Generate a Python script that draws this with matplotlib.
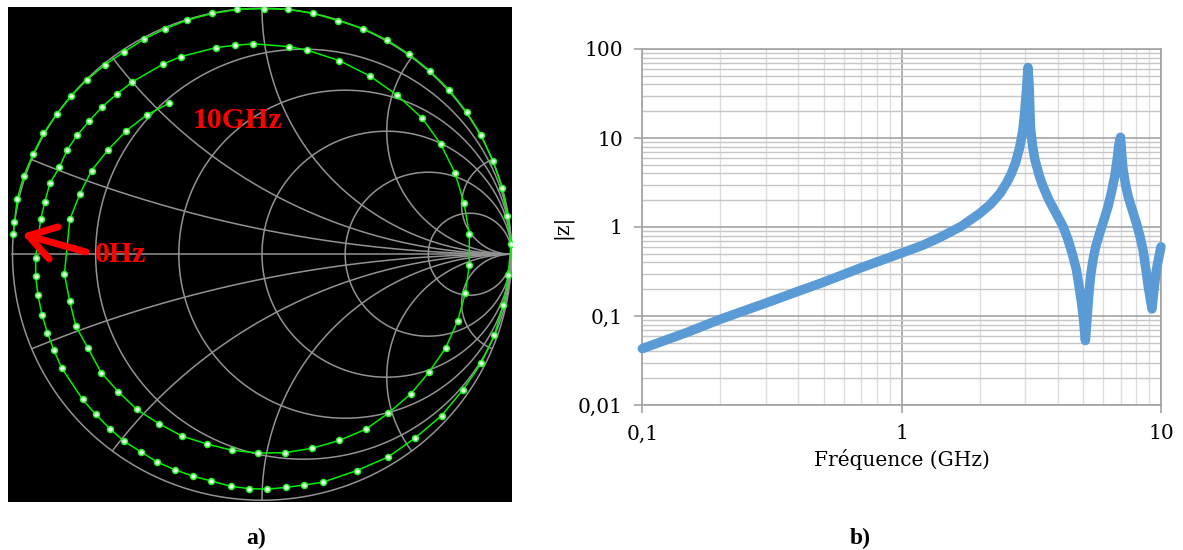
import numpy as np
import matplotlib
matplotlib.use("Agg")
import matplotlib.pyplot as plt
from matplotlib.patches import Circle
from matplotlib.ticker import FixedLocator, FixedFormatter, LogLocator, NullFormatter

# ---------------- data ----------------
# right panel : |z| versus frequency (GHz)
freq_ghz = [0.1, 0.15, 0.2, 0.3, 0.4, 0.5, 0.7, 1.0, 1.2, 1.4, 1.7, 2.0, 2.2, 2.4,
            2.55, 2.65, 2.75, 2.85, 2.93, 2.98, 3.03, 3.07, 3.1, 3.14, 3.2, 3.26,
            3.4, 3.51, 3.7, 3.95, 4.2, 4.38, 4.55, 4.72, 4.85, 4.94, 5.03, 5.11,
            5.18, 5.26, 5.35, 5.47, 5.6, 5.8, 6.0, 6.25, 6.45, 6.63, 6.78, 6.89,
            6.98, 7.06, 7.14, 7.3, 7.47, 7.75, 8.04, 8.3, 8.53, 8.75, 8.92, 9.08,
            9.23, 9.4, 9.6, 9.8, 10.0]
z_mag = [0.043, 0.066, 0.092, 0.14, 0.19, 0.24, 0.35, 0.51, 0.62, 0.76, 1.02, 1.42,
         1.8, 2.4, 3.2, 4.0, 5.3, 7.8, 12.0, 19.0, 35.0, 62.0, 40.0, 13.0, 8.0, 5.8,
         3.7, 2.85, 2.0, 1.4, 1.0, 0.72, 0.5, 0.33, 0.2, 0.14, 0.09, 0.053,
         0.09, 0.165, 0.28, 0.43, 0.6, 0.85, 1.15, 1.7, 2.5, 3.7, 5.8, 8.7,
         10.2, 6.5, 4.4, 3.0, 2.2, 1.55, 1.1, 0.78, 0.55, 0.33, 0.22, 0.16,
         0.12, 0.2, 0.33, 0.45, 0.6]
x_tick_vals = [0.1, 1, 10]
x_tick_labels = ["0,1", "1", "10"]
y_tick_vals = [0.01, 0.1, 1, 10, 100]
y_tick_labels = ["0,01", "0,1", "1", "10", "100"]

# left panel : reflection coefficient trace (0 Hz -> 10 GHz)
gamma_re = [-0.997, -0.992, -0.981, -0.955, -0.918, -0.876, -0.823, -0.766, -0.703, -0.629,
            -0.552, -0.472, -0.387, -0.299, -0.199, -0.099, 0.008, 0.106, 0.206, 0.306,
            0.406, 0.500, 0.591, 0.673, 0.751, 0.820, 0.878, 0.925, 0.963, 0.983, 0.998,
            0.987, 0.967, 0.931, 0.878, 0.804, 0.720, 0.615, 0.506, 0.379, 0.243, 0.170,
            0.096, 0.021, -0.051, -0.124, -0.203, -0.277, -0.350, -0.420, -0.486, -0.552,
            -0.608, -0.667, -0.719, -0.802, -0.834, -0.860, -0.882, -0.898, -0.907, -0.907,
            -0.887, -0.870, -0.850, -0.812, -0.782, -0.740, -0.692, -0.640, -0.581, -0.522,
            -0.398, -0.326, -0.183, -0.110, -0.036, 0.108, 0.182, 0.310, 0.433, 0.542,
            0.643, 0.716, 0.774, 0.810, 0.831, 0.831, 0.815, 0.784, 0.736, 0.669,
            0.596, 0.505, 0.417, 0.310, 0.200, 0.091, -0.015, -0.120, -0.219, -0.319,
            -0.413, -0.502, -0.576, -0.644, -0.697, -0.746, -0.771, -0.792,
            -0.770, -0.730, -0.683, -0.619, -0.545, -0.461, -0.373]
gamma_im = [0.082, 0.130, 0.224, 0.318, 0.406, 0.491, 0.569, 0.642, 0.708, 0.770,
            0.823, 0.875, 0.917, 0.952, 0.979, 0.995, 0.998, 0.995, 0.979, 0.949,
            0.917, 0.871, 0.812, 0.745, 0.667, 0.578, 0.485, 0.380, 0.270, 0.157, 0.041,
            -0.083, -0.208, -0.329, -0.444, -0.553, -0.656, -0.746, -0.824, -0.880, -0.927, -0.938,
            -0.948, -0.955, -0.953, -0.944, -0.922, -0.902, -0.876, -0.845, -0.803, -0.761,
            -0.711, -0.651, -0.590, -0.464, -0.391, -0.319, -0.246, -0.166, -0.089, -0.015,
            0.142, 0.214, 0.288, 0.353, 0.422, 0.485, 0.542, 0.600, 0.651, 0.699,
            0.772, 0.803, 0.840, 0.849, 0.855, 0.844, 0.829, 0.787, 0.724, 0.646,
            0.552, 0.448, 0.329, 0.207, 0.082, -0.043, -0.158, -0.272, -0.381, -0.480,
            -0.568, -0.647, -0.711, -0.757, -0.789, -0.807, -0.808, -0.797, -0.772, -0.740,
            -0.689, -0.631, -0.559, -0.482, -0.383, -0.293, -0.189, -0.081,
            0.142, 0.245, 0.340, 0.422, 0.501, 0.567, 0.613]
smith_r_values = [0.2, 0.5, 1, 2, 5]
smith_x_values = [0.2, 0.5, 1, 2, 5]

# ---------------- figure ----------------
W, H = 1183, 550
fig = plt.figure(figsize=(W / 100, H / 100), dpi=100)
fig.patch.set_facecolor("white")


def fx(px):
    return px / W


def fy(py):
    return 1 - py / H


# ---- Smith chart panel ----
ax1 = fig.add_axes([fx(7.5), fy(502), fx(512) - fx(7.5), fy(6.5) - fy(502)])
ax1.set_facecolor("black")
ax1.set_xlim(-1.02, 1.002)
ax1.set_ylim(-1.0073, 1.0069)
ax1.set_xticks([])
ax1.set_yticks([])
for s in ax1.spines.values():
    s.set_visible(False)

gcol = "#939393"
glw = 1.1
t = np.linspace(0, 2 * np.pi, 3000)
ax1.plot(np.cos(t), np.sin(t), color=gcol, lw=glw, zorder=1)
ax1.plot([-1, 1], [0, 0], color=gcol, lw=glw, zorder=1)
clip = Circle((0, 0), 1.0, transform=ax1.transData)
for r in smith_r_values:
    c, rad = r / (1 + r), 1 / (1 + r)
    ax1.plot(c + rad * np.cos(t), rad * np.sin(t), color=gcol, lw=glw, zorder=1)
for xv in smith_x_values:
    for sgn in (1, -1):
        rad = 1 / xv
        ln, = ax1.plot(1 + rad * np.cos(t), sgn * rad + rad * np.sin(t),
                       color=gcol, lw=glw, zorder=1)
        ln.set_clip_path(clip)

ax1.plot(gamma_re, gamma_im, color="#00f000", lw=1.1, zorder=3)
ax1.plot(gamma_re, gamma_im, "o", ms=4.3, mfc="#e4ffe4", mec="#28f028", mew=1.1, zorder=4)

ax1.annotate("", xy=(22, H - 234), xycoords="figure pixels",
             xytext=(86, H - 252), textcoords="figure pixels",
             arrowprops=dict(arrowstyle="->,head_length=0.95,head_width=0.6",
                             color="#ff0000", lw=5, mutation_scale=20,
                             shrinkA=0, shrinkB=0))
fig.text(fx(237), fy(121), "10GHz", color="#ff0000", fontsize=21.5, fontweight="bold",
         family="Liberation Serif", ha="center", va="center")
fig.text(fx(121), fy(254), "0Hz", color="#ff0000", fontsize=21.5, fontweight="bold",
         family="Liberation Serif", ha="center", va="center")

# ---- |z| panel ----
ax2 = fig.add_axes([fx(642.3), fy(405), fx(1161) - fx(642.3), fy(49) - fy(405)])
ax2.set_xscale("log")
ax2.set_yscale("log")
ax2.set_xlim(0.1, 10)
ax2.set_ylim(0.01, 100)
ax2.xaxis.set_major_locator(FixedLocator(x_tick_vals))
ax2.xaxis.set_major_formatter(FixedFormatter(x_tick_labels))
ax2.yaxis.set_major_locator(FixedLocator(y_tick_vals))
ax2.yaxis.set_major_formatter(FixedFormatter(y_tick_labels))
ax2.xaxis.set_minor_locator(LogLocator(base=10, subs=np.arange(2, 10)))
ax2.yaxis.set_minor_locator(LogLocator(base=10, subs=np.arange(2, 10)))
ax2.xaxis.set_minor_formatter(NullFormatter())
ax2.yaxis.set_minor_formatter(NullFormatter())
ax2.set_axisbelow(True)
ax2.grid(True, which="major", color="#a3a3a3", lw=1.2)
ax2.yaxis.grid(True, which="minor", color="#c6c6c6", lw=1.0)
ax2.xaxis.grid(True, which="minor", color="#dedede", lw=1.0)
for s in ax2.spines.values():
    s.set_color("#a3a3a3")
    s.set_linewidth(1.2)
tfont = dict(family="DejaVu Serif", size=14.5)
ax2.tick_params(which="major", direction="out", length=6, width=1.2, color="#a3a3a3",
                labelsize=14.5, labelcolor="black", pad=8)
ax2.tick_params(which="minor", length=0)
for lab in ax2.get_xticklabels() + ax2.get_yticklabels():
    lab.set_family("DejaVu Serif")

ax2.plot(freq_ghz, z_mag, color="#5b9bd5", lw=6.8, solid_joinstyle="round",
         solid_capstyle="round", clip_on=False, zorder=3)
ax2.set_xlabel("Fréquence (GHz)", fontdict=tfont, labelpad=4)
ax2.set_ylabel("|z|", fontdict=tfont, labelpad=4)

fig.text(fx(256), fy(538), "a)", fontsize=17, fontweight="bold", family="Liberation Serif",
         ha="center", va="center")
fig.text(fx(860), fy(538), "b)", fontsize=17, fontweight="bold", family="Liberation Serif",
         ha="center", va="center")

fig.savefig("out.png", dpi=100, facecolor="white")
